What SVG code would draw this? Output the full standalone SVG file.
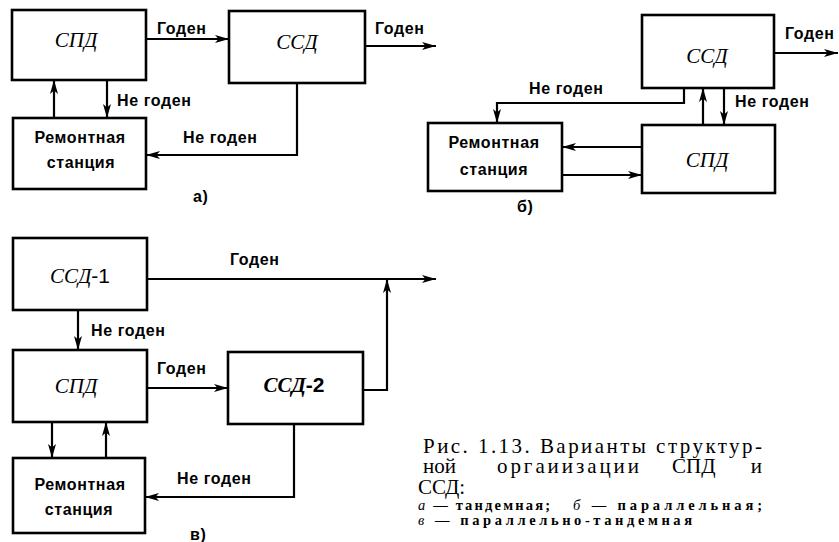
<svg xmlns="http://www.w3.org/2000/svg" width="839" height="542" viewBox="0 0 839 542">
<defs>
<style>
.box{fill:#fff;stroke:#000;stroke-width:2.6}
.ln{fill:none;stroke:#000;stroke-width:2.2;marker-end:url(#ah)}
.it{font-family:"Liberation Serif",serif;font-style:italic;font-size:21px;fill:#000}
.lb{font-family:"Liberation Sans",Arial,sans-serif;font-weight:bold;font-size:16px;letter-spacing:0.6px;fill:#000}
.cap{font-family:"Liberation Serif",serif;font-size:21px;fill:#000}
.sub{font-family:"Liberation Serif",serif;font-weight:bold;font-size:14.5px;fill:#000}
</style>
<marker id="ah" markerUnits="userSpaceOnUse" markerWidth="15" markerHeight="10" refX="14" refY="5" orient="auto">
<path d="M0,1 L14,5 L0,9 L3.5,5 Z" fill="#000"/>
</marker>
</defs>
<rect width="839" height="542" fill="#fff"/>

<g id="connectors">
<path class="ln" d="M146,39 H229"/>
<path class="ln" d="M365,46 H436"/>
<path class="ln" d="M54,118 V80"/>
<path class="ln" d="M107,80 V118"/>
<path class="ln" d="M297,83 V155 H146"/>

<path class="ln" d="M774,53 H838"/>
<path class="ln" d="M703,125 V88"/>
<path class="ln" d="M724,88 V125"/>
<path class="ln" d="M684,88 V103 H497 V123"/>
<path class="ln" d="M642,147 H562"/>
<path class="ln" d="M562,175 H642"/>

<path class="ln" d="M147,279 H436"/>
<path class="ln" d="M363,390 H387 V279"/>
<path class="ln" d="M78,310 V350"/>
<path class="ln" d="M147,388 H228"/>
<path class="ln" d="M52,422 V458"/>
<path class="ln" d="M106,458 V422"/>
<path class="ln" d="M294,424 V497 H145"/>
</g>

<g id="labels">
<text class="lb" x="157" y="34">Годен</text>
<text class="lb" x="375" y="34">Годен</text>
<text class="lb" x="117" y="106">Не годен</text>
<text class="lb" x="183" y="143">Не годен</text>
<text class="lb" x="193" y="202">а)</text>

<text class="lb" x="785" y="39">Годен</text>
<text class="lb" x="529" y="94">Не годен</text>
<text class="lb" x="735" y="107">Не годен</text>
<text class="lb" x="517" y="212">б)</text>

<text class="lb" x="230" y="265">Годен</text>
<text class="lb" x="91" y="336">Не годен</text>
<text class="lb" x="157" y="374">Годен</text>
<text class="lb" x="177" y="484">Не годен</text>
<text class="lb" x="190" y="540">в)</text>
</g>

<g id="a-spd"><rect class="box" x="12" y="10" width="134" height="70"/><text class="it" x="76" y="47" text-anchor="middle">СПД</text></g>
<g id="a-ssd"><rect class="box" x="229" y="11" width="136" height="72"/><text class="it" x="297" y="49" text-anchor="middle">ССД</text></g>
<g id="a-rem"><rect class="box" x="13" y="118" width="133" height="71"/><text class="lb" x="80" y="143" text-anchor="middle">Ремонтная</text><text class="lb" x="81" y="168" text-anchor="middle">станция</text></g>

<g id="b-ssd"><rect class="box" x="642" y="15" width="132" height="73"/><text class="it" x="707" y="63" text-anchor="middle">ССД</text></g>
<g id="b-spd"><rect class="box" x="642" y="125" width="133" height="68"/><text class="it" x="707" y="167" text-anchor="middle">СПД</text></g>
<g id="b-rem"><rect class="box" x="428" y="123" width="134" height="68"/><text class="lb" x="494" y="148" text-anchor="middle">Ремонтная</text><text class="lb" x="494" y="175" text-anchor="middle">станция</text></g>

<g id="c-ssd1"><rect class="box" x="13" y="238" width="134" height="72"/><text class="it" x="80" y="283" text-anchor="middle">ССД<tspan font-family="Liberation Sans, Arial, sans-serif" font-style="normal">-1</tspan></text></g>
<g id="c-spd"><rect class="box" x="13" y="350" width="134" height="72"/><text class="it" x="76" y="393" text-anchor="middle">СПД</text></g>
<g id="c-ssd2"><rect class="box" x="228" y="352" width="135" height="72"/><text class="it" x="294" y="392" text-anchor="middle" font-weight="bold">ССД<tspan font-family="Liberation Sans, Arial, sans-serif" font-style="normal">-2</tspan></text></g>
<g id="c-rem"><rect class="box" x="13" y="458" width="132" height="75"/><text class="lb" x="80" y="490" text-anchor="middle">Ремонтная</text><text class="lb" x="79" y="515" text-anchor="middle">станция</text></g>

<g id="caption">
<text class="cap" x="423" y="453" textLength="339" lengthAdjust="spacing">Рис. 1.13. Варианты структур-</text>
<text class="cap" x="423" y="473">ной</text>
<text class="cap" x="497" y="473" textLength="142" lengthAdjust="spacing">оргаиизации</text>
<text class="cap" x="672" y="473">СПД</text>
<text class="cap" x="762" y="473" text-anchor="end">и</text>
<text class="cap" x="418" y="494">ССД:</text>
<text class="sub" x="418" y="510" textLength="132" lengthAdjust="spacing"><tspan font-style="italic" font-weight="normal">а</tspan> — тандемная;</text>
<text class="sub" x="573" y="510" textLength="189" lengthAdjust="spacing"><tspan font-style="italic" font-weight="normal">б</tspan> — параллельная;</text>
<text class="sub" x="418" y="525" textLength="274" lengthAdjust="spacing"><tspan font-style="italic" font-weight="normal">в</tspan> — параллельно-тандемная</text>
</g>
</svg>
